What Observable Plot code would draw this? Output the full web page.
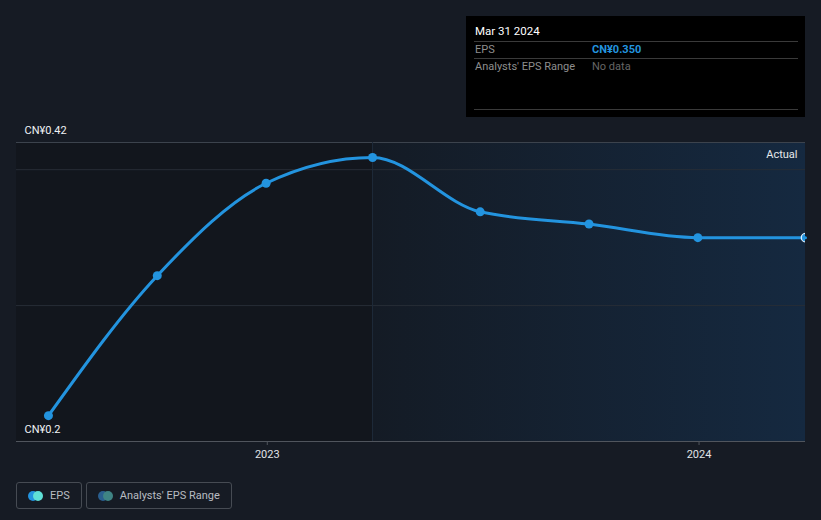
<!DOCTYPE html>
<html>
<head>
<meta charset="utf-8">
<script src="https://cdn.jsdelivr.net/npm/d3@7"></script>
<script src="https://cdn.jsdelivr.net/npm/@observablehq/plot@0.6"></script>
<style>
  html, body { margin: 0; padding: 0; background: #161b24; }
  body { width: 821px; height: 520px; overflow: hidden; font-family: Roboto, "Open Sans", sans-serif; position: relative; }
  #chart { position: absolute; left: 0; top: 0; }
  #tip { position: absolute; left: 466px; top: 16px; width: 339px; height: 101px; background: #000; color: #fff; font-size: 11px; }
  #tip .title { position: absolute; left: 9px; top: 8px; color: #fff; font-size: 11.5px; }
  #tip .hr { position: absolute; left: 8px; width: 324px; height: 1px; background: #3a3a3a; }
  #tip .lab { position: absolute; left: 9px; color: #8e8e8e; font-size: 11px; }
  #tip .val { position: absolute; left: 126px; font-size: 11px; }
  #legend { position: absolute; left: 16px; top: 482px; display: flex; gap: 4px; }
  .item { border: 1px solid #464b53; border-radius: 3px; height: 25px; display: flex; align-items: center; padding: 0 11px 0 11px; color: #b8bcc2; font-size: 11px; }
  .dots { position: relative; width: 14px; height: 10px; margin-right: 8px; }
  .dots span { position: absolute; top: 0; width: 10px; height: 10px; border-radius: 50%; }
</style>
</head>
<body>
<div id="chart"></div>
<div id="tip">
  <div class="title">Mar 31 2024</div>
  <div class="hr" style="top:25px"></div>
  <div class="lab" style="top:27px">EPS</div>
  <div class="val" style="top:27px;color:#2394df;font-weight:bold">CN¥0.350</div>
  <div class="hr" style="top:42px"></div>
  <div class="lab" style="top:44px">Analysts' EPS Range</div>
  <div class="val" style="top:44px;color:#666">No data</div>
  <div class="hr" style="top:93px"></div>
</div>
<div id="legend">
  <div class="item"><div class="dots"><span style="left:0;background:#2394df"></span><span style="left:5px;background:#5fe0d6"></span></div>EPS</div>
  <div class="item"><div class="dots"><span style="left:0;background:#2a5f8f"></span><span style="left:5px;background:#3f8484"></span></div>Analysts' EPS Range</div>
</div>
<script>
const dates = ["2022-06-30", "2022-09-30", "2022-12-31", "2023-03-31", "2023-06-30", "2023-09-30", "2023-12-31", "2024-03-31"];
const eps = [0.219, 0.322, 0.390, 0.409, 0.369, 0.360, 0.350, 0.350];
const yTicks = [0.2, 0.42];
const yTickLabels = ["CN¥0.2", "CN¥0.42"];
const gridValues = [0.30, 0.40];
const xTickDates = ["2023-01-01", "2024-01-01"];
const xTickLabels = ["2023", "2024"];
const domainStart = "2022-06-03";
const domainEnd = "2024-03-31";
const actualStart = "2023-03-31";

const parse = d3.utcParse("%Y-%m-%d");
const data = dates.map((d, i) => ({date: parse(d), eps: eps[i]}));
const x0 = parse(domainStart), x1 = parse(domainEnd), xa = parse(actualStart);
const yLabels = yTicks.map((v, i) => ({x: x0, y: v, label: yTickLabels[i]}));
const xTickVals = xTickDates.map(parse);
const yMin = yTicks[0], yMax = yTicks[1];

const plot = Plot.plot({
  width: 821,
  height: 470,
  marginLeft: 16,
  marginRight: 16,
  marginTop: 142,
  marginBottom: 29,
  style: {background: "transparent", fontFamily: "Roboto, sans-serif"},
  x: {type: "utc", domain: [x0, x1], axis: null},
  y: {type: "linear", domain: [yMin, yMax], axis: null},
  marks: [
    Plot.rect([{a: x0, b: xa, lo: yMin, hi: yMax}], {x1: "a", x2: "b", y1: "lo", y2: "hi", fill: "#12161d"}),
    Plot.rect([{a: xa, b: x1, lo: yMin, hi: yMax}], {x1: "a", x2: "b", y1: "lo", y2: "hi", fill: "url(#actualGrad)"}),
    Plot.ruleY(gridValues, {stroke: "#272d36", strokeWidth: 1}),
    Plot.ruleY([yMax], {stroke: "#3c434d", strokeWidth: 1}),
    Plot.ruleX([{x: xa, lo: yMin, hi: yMax}], {x: "x", y1: "lo", y2: "hi", stroke: "#1e2a3a", strokeWidth: 1}),
    Plot.ruleY([yMin], {stroke: "#50555d", strokeWidth: 1.2}),
    Plot.axisX(xTickVals, {tickFormat: (d, i) => xTickLabels[i], tickSize: 4, tickPadding: 5, stroke: "#50555d", fill: "#e0e3e7", fontSize: 11}),
    Plot.text(yLabels, {x: "x", y: "y", text: "label", textAnchor: "start", dx: 8, dy: -12, fill: "#f0f2f4", fontSize: 11}),
    Plot.text([{x: x1, y: yMax, t: "Actual"}], {x: "x", y: "y", text: "t", textAnchor: "end", dx: -8, dy: 12, fill: "#e6e9ec", fontSize: 11}),
    Plot.line(data, {x: "date", y: "eps", stroke: "#2394df", strokeWidth: 3, curve: "monotone-x"}),
    Plot.dot(data.slice(0, -1), {x: "date", y: "eps", r: 4.5, fill: "#2394df"}),
    Plot.dot(data.slice(-1), {x: "date", y: "eps", r: 4.2, fill: "#2394df", stroke: "#dcefff", strokeWidth: 1.3, clip: "frame"})
  ]
});

const svg = d3.select(plot);
const defs = svg.insert("defs", ":first-child");
const g = defs.append("linearGradient").attr("id", "actualGrad").attr("x1", "0").attr("x2", "1").attr("y1", "0").attr("y2", "0");
g.append("stop").attr("offset", "0%").attr("stop-color", "#141b25");
g.append("stop").attr("offset", "100%").attr("stop-color", "#152940");
document.getElementById("chart").appendChild(plot);
</script>
</body>
</html>
